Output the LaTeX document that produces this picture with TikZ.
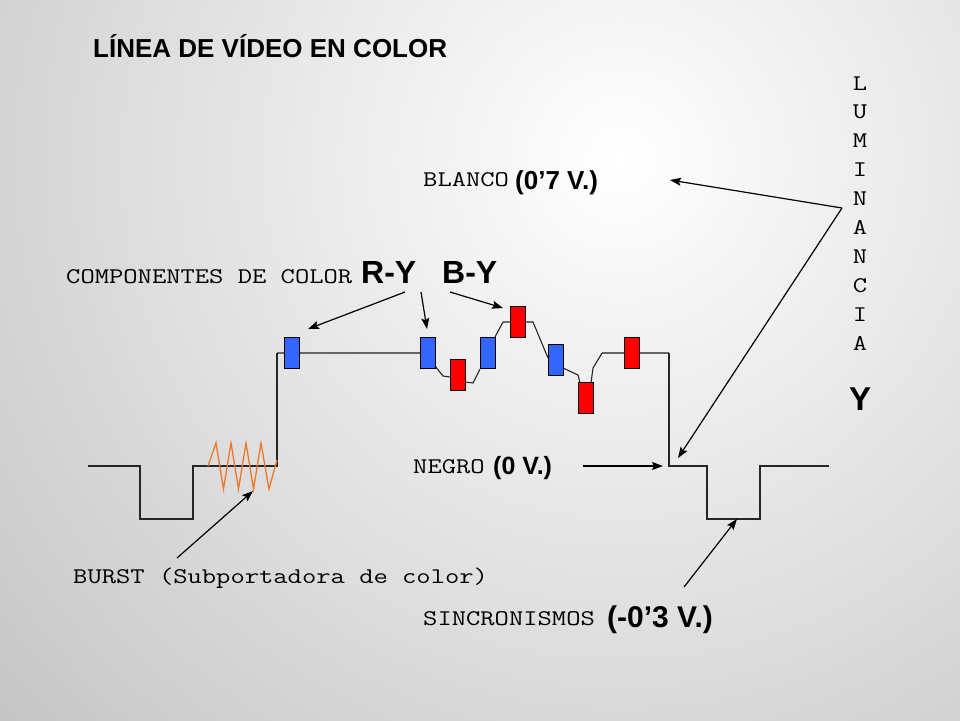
\documentclass[tikz,border=0pt]{standalone}
\usepackage{fontspec}
\setmainfont{Liberation Sans}
\newfontfamily\arialf{Liberation Sans}
\newfontfamily\courf{Latin Modern Mono}[FakeStretch=1.24]
\usetikzlibrary{arrows.meta}
\definecolor{boxblue}{RGB}{51,102,255}
\definecolor{boxred}{RGB}{255,0,0}
\definecolor{burstorange}{RGB}{238,120,40}
\definecolor{bgout}{RGB}{138,138,138}
\pgfdeclareradialshading{bgshade}{\pgfpoint{0bp}{0bp}}{color(0bp)=(white); color(50bp)=(bgout)}
\tikzset{
  mono/.style={font=\courf\fontsize{22.4}{28}\selectfont, inner sep=0pt, anchor=base west},
  val/.style={font=\arialf\bfseries\fontsize{#1}{#1}\selectfont, inner sep=0pt, anchor=base west},
  wave/.style={line width=1.3pt, black!85},
  level/.style={line width=2pt, black!60},
  sig/.style={line width=1.1pt, black!85},
  cbox/.style={draw=black, line width=1pt, fill=#1, minimum width=15pt, minimum height=31pt, inner sep=0pt},
  pointer/.style={line width=1.2pt, black, -{Stealth[length=11pt,width=8pt,inset=2pt]}},
}
\begin{document}
\begin{tikzpicture}[x=1pt,y=-1pt]
\useasboundingbox (0,0) rectangle (960,720);
\begin{scope}
\clip (0,0) rectangle (960,720);
\fill[bgout] (0,0) rectangle (960,720);
\shade[shading=bgshade] (620,160) circle[radius=850pt];
\end{scope}

% title
\node[val=26] (title) at (93,57) {LÍNEA DE VÍDEO EN COLOR};

% waveform levels
\draw[level] (277,353) -- (420,353);
\draw[level] (602,353) -- (669,353);
\draw[wave] (88,466) -- (140,466) -- (140,519) -- (193,519) -- (193,466) -- (277,466) -- (277,353);
\draw[wave] (669,353) -- (669,466) -- (707,466) -- (707,519) -- (760,519) -- (760,466) -- (829,466);

% burst
\draw[burstorange, line width=1.3pt] (208,466) -- (216,443) -- (223.5,489) -- (231,443) -- (238.5,489) -- (246,443) -- (253.5,489) -- (261,443) -- (269,489) -- (277,460);

% color signal links
\draw[sig] (435,366) -- (443,376) -- (450,377);
\draw[sig] (465,382) -- (473,383) -- (480,369);
\draw[sig] (495,337) -- (503,322) -- (511,322);
\draw[sig] (525,322) -- (533,322) -- (548,358);
\draw[sig] (563,368) -- (578,375) -- (580,383);
\draw[sig] (591,383) -- (593,368) -- (602,353);

% color boxes
\node[cbox=boxblue] (b1) at (291.5,352.5) {};
\node[cbox=boxblue] (b2) at (427.5,352.5) {};
\node[cbox=boxred]  (r1) at (457.5,375) {};
\node[cbox=boxblue] (b3) at (487.5,352.5) {};
\node[cbox=boxred]  (r2) at (518,322) {};
\node[cbox=boxblue] (b4) at (555.5,360) {};
\node[cbox=boxred]  (r3) at (585.5,398) {};
\node[cbox=boxred]  (r4) at (631.5,352.5) {};

% labels
\node[mono] (blanco) at (423,186) {BLANCO};
\node[val=26] (blancov) at (515,189) {(0’7 V.)};
\node[mono] (comp) at (66,283) {COMPONENTES DE COLOR};
\node[val=32] (ry) at (361,283) {R-Y};
\node[val=32] (by) at (442,283) {B-Y};
\node[mono] (negro) at (413,473) {NEGRO};
\node[val=25] (negrov) at (493,474) {(0 V.)};
\node[mono] (burst) at (73,583) {BURST (Subportadora de color)};
\node[mono] (sinc) at (423,625) {SINCRONISMOS};
\node[val=30] (sincv) at (607,627) {(-0’3 V.)};
\foreach \c [count=\i from 0] in {L,U,M,I,N,A,N,C,I,A}
  \node[mono, anchor=base] (lum\i) at (860,{90+28.9*\i}) {\c};
\node[val=33, anchor=base] (yl) at (860,410) {Y};

% arrow anchor points
\coordinate (ryA) at (405,292);
\coordinate (ryB) at (421,292);
\coordinate (byA) at (450,292);
\coordinate (t1) at (308,329);
\coordinate (t2) at (427,329);
\coordinate (t3) at (503,308);
\coordinate (lumP) at (842,208);
\coordinate (tW) at (670,180);
\coordinate (tB) at (678,458);
\coordinate (negS) at (583,466);
\coordinate (negT) at (663,466);
\coordinate (syS) at (684,587);
\coordinate (syT) at (737,519);
\coordinate (buS) at (177,558);
\coordinate (buT) at (253,491);

\draw[pointer] (ryA) -- (t1);
\draw[pointer] (ryB) -- (t2);
\draw[pointer] (byA) -- (t3);
\draw[pointer] (lumP) -- (tW);
\draw[pointer] (lumP) -- (tB);
\draw[pointer] (negS) -- (negT);
\draw[pointer] (syS) -- (syT);
\draw[pointer] (buS) -- (buT);
\end{tikzpicture}
\end{document}
